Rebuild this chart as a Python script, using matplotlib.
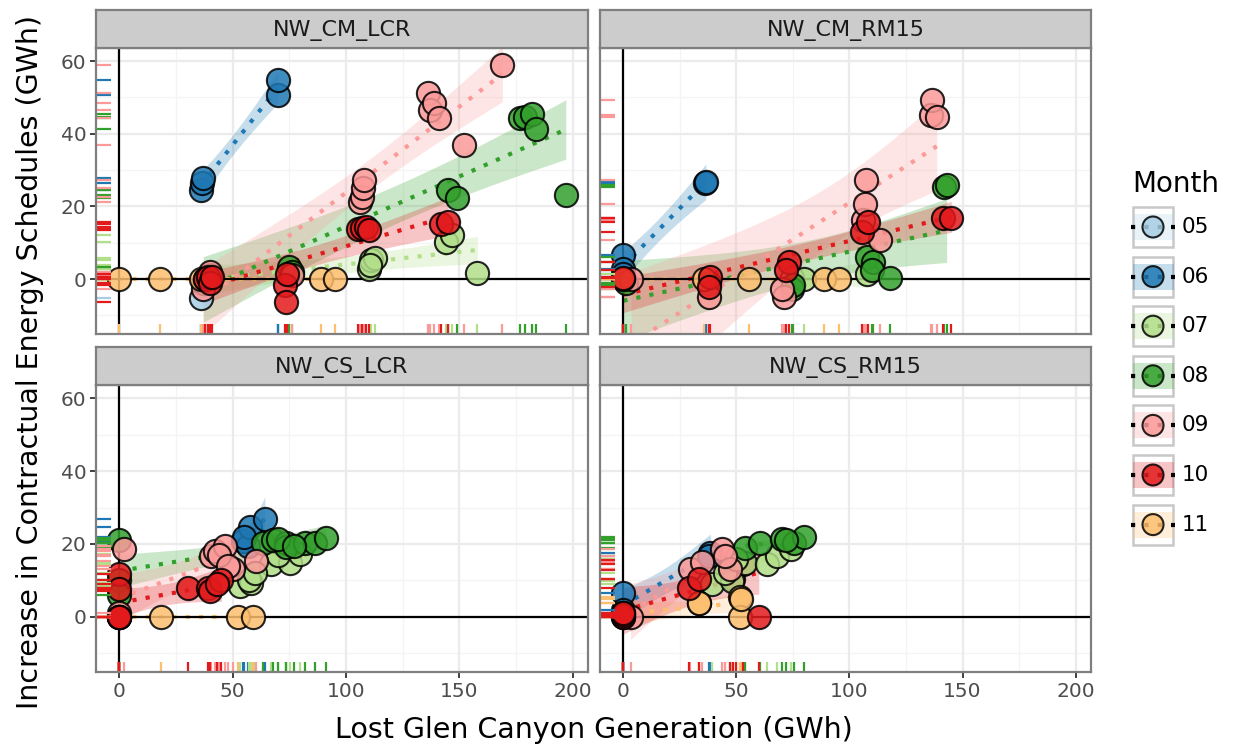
import numpy as np
import matplotlib
matplotlib.use("Agg")
import matplotlib.pyplot as plt
from matplotlib.collections import LineCollection
from matplotlib.patches import Rectangle, Circle
from matplotlib.lines import Line2D

months = ['05', '06', '07', '08', '09', '10', '11']
colors = ['#A6CEE3', '#1F78B4', '#B2DF8A', '#33A02C', '#FB9A99', '#E31A1C', '#FDBF6F']
draw_order = ['05', '06', '07', '08', '09', '11', '10']
panels = ['NW_CM_LCR', 'NW_CM_RM15', 'NW_CS_LCR', 'NW_CS_RM15']
x_ticks = [0, 50, 100, 150, 200]
y_ticks = [0, 20, 40, 60]

# ---- NW_CM_LCR ----
cm_lcr_x = {
    '05': [36],
    '06': [36, 36.5, 37, 70, 70],
    '07': [38, 39, 40, 110, 111, 113, 110.5, 144, 147, 158],
    '08': [37, 39, 40, 75, 76, 145, 149, 177, 179, 182, 184, 197],
    '09': [37, 40, 76, 106, 107, 107.5, 108, 136, 137, 139, 141, 152, 169],
    '10': [38, 39, 40, 41, 73, 73.5, 74, 105.5, 107, 109, 110, 142, 145],
    '11': [0, 18, 36, 38, 89, 95],
}
cm_lcr_y = {
    '05': [-5.3],
    '06': [24.5, 26.4, 27.7, 50.7, 54.8],
    '07': [-1, 0, 0.5, 2.9, 5.2, 5.7, 4, 10.3, 12.1, 1.6],
    '08': [-1, 0, 1, 3.4, 2, 24.5, 22.2, 44.3, 44.7, 45.5, 41.2, 23.1],
    '09': [-2.6, 2, 1.1, 21.3, 22.7, 25, 27.3, 51.1, 46.6, 48.4, 44.3, 36.9, 58.8],
    '10': [0, 0.6, -1, 0.5, -1.7, -6.2, 1.5, 13.9, 14, 14.4, 13.5, 15.3, 15.8],
    '11': [0, 0, 0, 0, 0, 0],
}
# ---- NW_CM_RM15 ----
cm_rm15_x = {
    '06': [0, 0, 0, 36, 36.5],
    '07': [74.6, 79.7, 107.7],
    '08': [0, 1, 38, 74.6, 75, 107.7, 110.6, 110, 118, 142, 143],
    '09': [3.5, 38, 71, 70, 106, 107, 107.5, 113.6, 136, 136.4, 138.6],
    '10': [0, 38.5, 38, 73.1, 72, 105.5, 108.4, 141.5, 145],
    '11': [0, 35.6, 55.5, 88.6, 95.2],
}
cm_rm15_y = {
    '06': [6.6, 2.8, 1.5, 26.5, 26.8],
    '07': [0.2, 0, 1.5],
    '08': [0, -1, -1, -2.6, -1.5, 6.1, 4.8, 2.5, 0.2, 25.4, 26],
    '09': [0, -4.9, -4.9, -2.6, 16.3, 20.8, 27.4, 10.7, 45.2, 49.3, 44.7],
    '10': [0.2, 0.6, -2.1, 4.8, 2.5, 13, 15.8, 16.7, 16.7],
    '11': [0, 0, 0, 0, 0],
}
# ---- NW_CS_LCR ----
cs_lcr_x = {
    '06': [54.5, 56.8, 57.5, 64.2, 55],
    '07': [53.1, 58.2, 57, 67.1, 75.2, 79.6, 60, 70],
    '08': [0, 0, 0, 63.4, 67.8, 73.7, 73.7, 81.9, 86.3, 91.4, 70, 77],
    '09': [2.2, 0, 0, 0, 40.5, 42, 46.5, 50.1, 60.4, 44, 48],
    '10': [0, 0, 0, 0, 0, 30.2, 39, 40, 45, 43],
    '11': [0, 18.2, 52.4, 59],
}
cs_lcr_y = {
    '06': [20.9, 19.5, 24.6, 26.9, 22],
    '07': [8.5, 9.4, 10, 14.5, 14.9, 17.2, 12, 17],
    '08': [21, 10, 6, 20.4, 21, 20.4, 19.1, 20.4, 20.2, 21.6, 21.5, 19.5],
    '09': [18.6, 0, 0, 1, 16.8, 18, 19.5, 13.1, 15.4, 17, 14],
    '10': [11.9, 7.6, 0, 0, 0, 7.8, 7.8, 7, 10, 9],
    '11': [0, 0, 0, 0],
}
# ---- NW_CS_RM15 ----
cs_rm15_x = {
    '06': [0, 0, 0, 38.5, 38],
    '07': [39.3, 48.1, 54, 63.5, 68, 74, 45, 50],
    '08': [54, 60.6, 70.2, 75.6, 79.7, 72],
    '09': [3.2, 29.7, 43.7, 47.4, 45, 35],
    '10': [0, 0, 0, 29, 33.4, 59.9],
    '11': [0, 0, 33.4, 33.6, 51.8, 51.8, 52],
}
cs_rm15_y = {
    '06': [6.6, 2, 1, 17.4, 16.8],
    '07': [9, 9.9, 14.9, 14.5, 16.8, 18.6, 12, 16],
    '08': [19, 20.4, 21.4, 20.2, 21.8, 21],
    '09': [0, 13.1, 18.6, 13.1, 16.8, 15],
    '10': [0, 0.5, 1, 8, 10.3, 0],
    '11': [0, 1, 3.9, 3.7, 5.4, 0, 4.8],
}
# points lying underneath other points (drawn first)
cs_rm15_hidden_x = {'10': [47, 48.5, 53, 50]}
cs_rm15_hidden_y = {'10': [13, 10.5, 14.5, 15.5]}

panel_x = [cm_lcr_x, cm_rm15_x, cs_lcr_x, cs_rm15_x]
panel_y = [cm_lcr_y, cm_rm15_y, cs_lcr_y, cs_rm15_y]
hidden_x = [{}, {}, {}, cs_rm15_hidden_x]
hidden_y = [{}, {}, {}, cs_rm15_hidden_y]

T95 = {1: 12.706, 2: 4.303, 3: 3.182, 4: 2.776, 5: 2.571, 6: 2.447, 7: 2.365,
       8: 2.306, 9: 2.262, 10: 2.228, 11: 2.201, 12: 2.179, 13: 2.160}

W, H = 1233, 749
fig = plt.figure(figsize=(W / 100, H / 100), dpi=100)

cols = [(96, 588), (600, 1091)]
rows = [((10, 48), (48, 334)), ((347, 385), (385, 672))]
XLIM = (-10.3, 206.8)
YLIM = (-15.1, 63.6)
frame_col = '#7F7F7F'
col_of = dict(zip(months, colors))


def fx(px):
    return px / W


def fy(py):
    return 1 - py / H


for i, name in enumerate(panels):
    r, c = divmod(i, 2)
    (sx0, sx1) = cols[c]
    (st, sb), (pt, pb) = rows[r]
    ax = fig.add_axes([fx(sx0), fy(pb), (sx1 - sx0) / W, (pb - pt) / H])
    ax.set_xlim(*XLIM)
    ax.set_ylim(*YLIM)
    ax.set_facecolor('white')
    # grid
    for v in [25, 75, 125, 175]:
        ax.axvline(v, color='#F4F4F4', lw=0.9, zorder=0)
    for v in [-10, 10, 30, 50]:
        ax.axhline(v, color='#F4F4F4', lw=0.9, zorder=0)
    for v in x_ticks:
        ax.axvline(v, color='#EBEBEB', lw=1.6, zorder=0)
    for v in y_ticks:
        ax.axhline(v, color='#EBEBEB', lw=1.6, zorder=0)
    ax.axvline(0, color='black', lw=1.6, zorder=3)
    ax.axhline(0, color='black', lw=1.6, zorder=3)

    dx, dy = panel_x[i], panel_y[i]
    hx, hy = hidden_x[i], hidden_y[i]
    for m in draw_order:
        col = col_of[m]
        if m not in dx:
            continue
        xv = np.array(dx[m], float)
        yv = np.array(dy[m], float)
        xh = np.array(hx.get(m, []), float)
        yh = np.array(hy.get(m, []), float)
        x = np.concatenate([xv, xh])
        y = np.concatenate([yv, yh])
        n = len(x)
        if n >= 3 and np.ptp(x) > 0:
            b, a = np.polyfit(x, y, 1)
            xs = np.linspace(x.min(), x.max(), 80)
            ys = a + b * xs
            resid = y - (a + b * x)
            s = np.sqrt(np.sum(resid ** 2) / (n - 2))
            sxx = np.sum((x - x.mean()) ** 2)
            se = s * np.sqrt(1 / n + (xs - x.mean()) ** 2 / sxx)
            t = T95.get(n - 2, 2.1)
            ax.fill_between(xs, ys - t * se, ys + t * se, color=col, alpha=0.25,
                            lw=0, zorder=1)
            ax.plot(xs, ys, color=col, lw=3, ls=(0, (1, 2.2)), zorder=2,
                    solid_capstyle='butt', dash_capstyle='butt')
        ax.scatter(xv, yv, s=280, color=col, edgecolor='black', linewidth=1.5,
                   alpha=0.85, zorder=4)
        if len(xh):
            ax.scatter(xh, yh, s=280, color=col, edgecolor='black',
                       linewidth=1.5, alpha=0.85, zorder=3.5)
        # rugs
        segs_l = [[(0, v), (0.03, v)] for v in y]
        ax.add_collection(LineCollection(segs_l, colors=col, linewidths=1.6,
                                         transform=ax.get_yaxis_transform(),
                                         zorder=5, clip_on=False))
        segs_b = [[(v, 0), (v, 0.035)] for v in x]
        ax.add_collection(LineCollection(segs_b, colors=col, linewidths=1.6,
                                         transform=ax.get_xaxis_transform(),
                                         zorder=5, clip_on=False))

    for sp in ax.spines.values():
        sp.set_color(frame_col)
        sp.set_linewidth(1.6)
        sp.set_zorder(6)
    ax.set_xticks(x_ticks)
    ax.set_yticks(y_ticks)
    ax.tick_params(colors='#333333', labelcolor='#4D4D4D', labelsize=14.5,
                   length=4, width=1.3, pad=3)
    if r == 0:
        ax.tick_params(axis='x', bottom=False, labelbottom=False)
    if c == 1:
        ax.tick_params(axis='y', left=False, labelleft=False)

    # strip
    sax = fig.add_axes([fx(sx0), fy(sb), (sx1 - sx0) / W, (sb - st) / H])
    sax.set_xticks([])
    sax.set_yticks([])
    sax.set_facecolor('#CCCCCC')
    for sp in sax.spines.values():
        sp.set_color(frame_col)
        sp.set_linewidth(1.6)
    sax.text(0.5, 0.47, name, ha='center', va='center', fontsize=16,
             color='#1A1A1A', transform=sax.transAxes)

fig.text(fx(30), fy(362), 'Increase in Contractual Energy Schedules (GWh)',
         rotation=90, ha='center', va='center', fontsize=20.5, color='black')
fig.text(fx(594), fy(730), 'Lost Glen Canyon Generation (GWh)',
         ha='center', va='center', fontsize=20.5, color='black')

# legend
lax = fig.add_axes([0, 0, 1, 1])
lax.set_xlim(0, W)
lax.set_ylim(H, 0)
lax.axis('off')
lax.patch.set_alpha(0)
lax.text(1132, 184, 'Month', fontsize=20, va='center', ha='left', color='black')
for k, (m, col) in enumerate(zip(months, colors)):
    cy = 227 + 49.6 * k
    lax.add_patch(Rectangle((1133, cy - 20), 40, 40, facecolor='white',
                            edgecolor='#C8C8C8', lw=1.8, zorder=1))
    lax.add_patch(Rectangle((1133, cy - 13), 41, 26, facecolor=col, alpha=0.25,
                            lw=0, zorder=2))
    lax.add_line(Line2D([1131, 1175], [cy, cy], color='black', lw=3,
                        ls=(0, (1, 2.2)), zorder=3))
    lax.add_patch(Circle((1153, cy), 10.5, facecolor=col, edgecolor='black',
                         lw=1.5, alpha=0.85, zorder=4))
    lax.text(1182, cy, m, fontsize=15.5, va='center', ha='left', color='black')

fig.savefig('out.png', dpi=100)
